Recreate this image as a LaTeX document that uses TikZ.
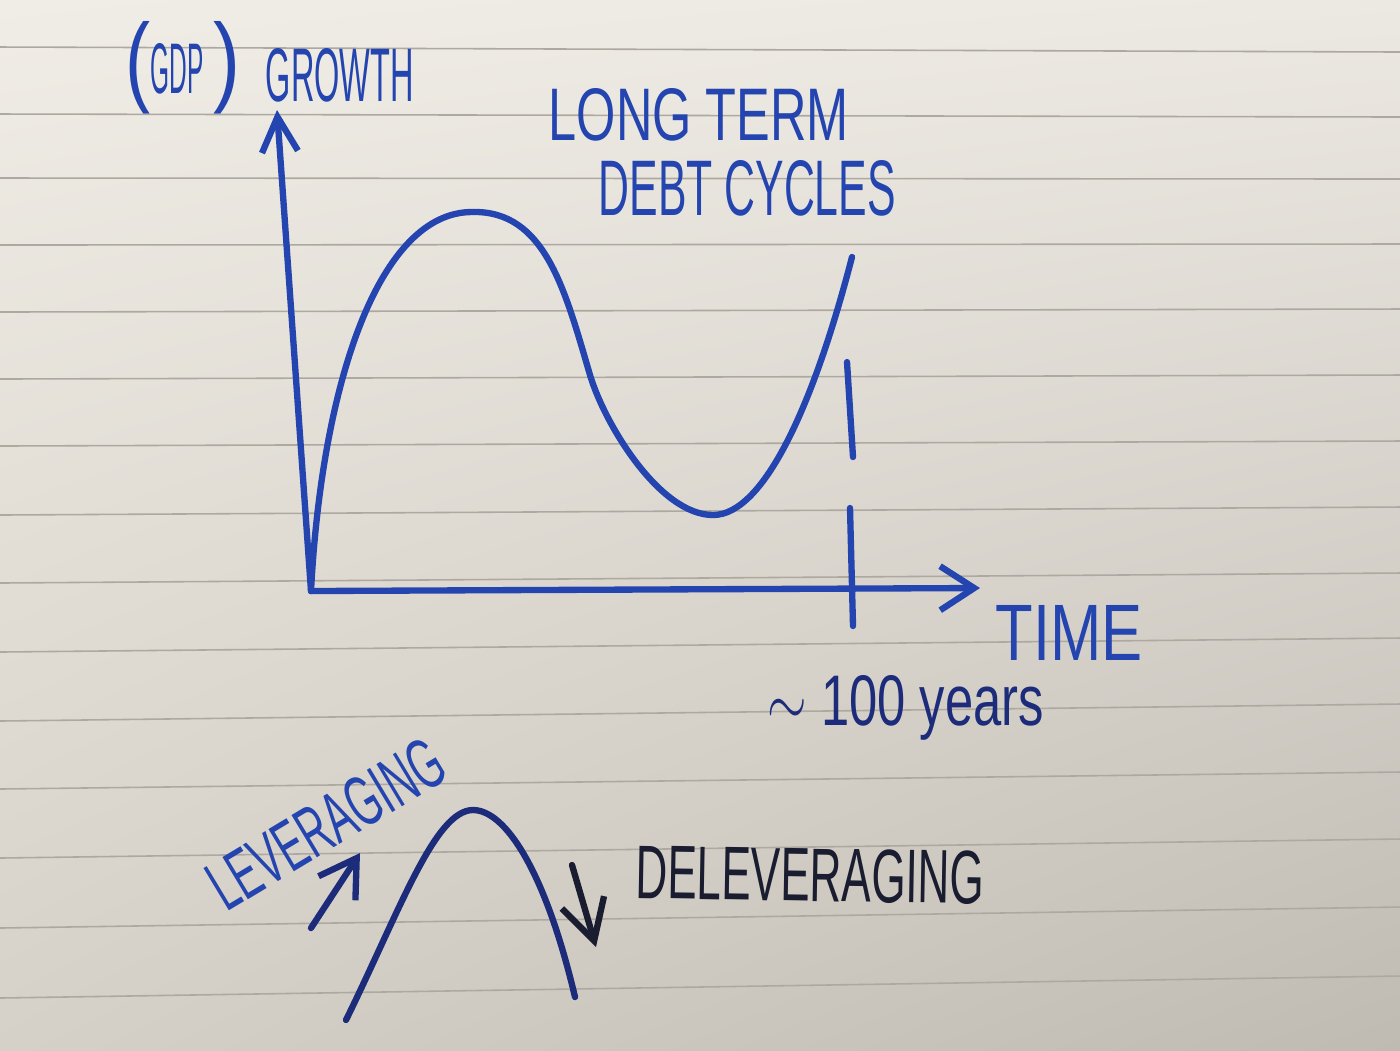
\documentclass[tikz,border=0pt]{standalone}
\usepackage{fontspec}
\setmainfont{Liberation Sans}
\usepackage{graphicx}
\usetikzlibrary{arrows.meta, shadings}
\definecolor{cpaperul}{HTML}{F0EDE6}
\definecolor{cpaperur}{HTML}{ECE9E2}
\definecolor{cpaperll}{HTML}{D6D1C8}
\definecolor{cpaperlr}{HTML}{BFBAB2}
\definecolor{crule}{HTML}{ADA8A0}
\definecolor{cink}{HTML}{2445B0}
\definecolor{cnavy}{HTML}{1C2C7A}
\definecolor{cdark}{HTML}{1A1D30}
% squeeze a word into the box the pen gave it
\newcommand{\fitto}[3]{\resizebox{#1}{#2}{#3}}
\tikzset{
  pen/.style={draw=#1, line width=1.8pt, line cap=round, line join=round},
  pen/.default=cink,
  barb/.style={-{Straight Barb[length=#1, width=4.4mm]}},
  thinbarb/.style={-{Straight Barb[length=3.5mm, width=3.6mm]}},
  words/.style={inner sep=0pt, anchor=base west, text=#1},
  words/.default=cink,
}

\begin{document}
\begin{tikzpicture}[x=0.01cm, y=-0.01cm]
  \useasboundingbox (0,0) rectangle (1400,1050);
  % paper and its ruling
  \shade[upper left=cpaperul, upper right=cpaperur, lower left=cpaperll, lower right=cpaperlr]
    (0,0) rectangle (1400,1050);
  \foreach \a/\b in {47/52, 114/117, 178/179, 245/244, 312/309, 379/375, 446/441, 515/507,
                     583/573, 652/638, 721/704, 789/772, 858/839, 928/907, 998/976}
    \draw[crule, line width=0.45pt] (0,\a) -- (1400,\b);
  % axes
  \coordinate (O) at (311,591);
  \coordinate (ytip) at (277,110);
  \coordinate (xtip) at (980,588);
  \draw[pen, thinbarb] (O) -- (ytip);
  \draw[pen, barb=3.4mm] (O) -- (xtip);
  % the long cycle: up to the peak, down through the trough, up again
  \coordinate (peak) at (472,212);
  \coordinate (turn) at (590,375);
  \coordinate (trough) at (713,515);
  \coordinate (cycend) at (852,257);
  \draw[pen] (O) .. controls (322,380) and (380,212) .. (peak)
    .. controls (545,210) and (565,290) .. (turn)
    .. controls (605,425) and (660,515) .. (trough)
    .. controls (765,515) and (815,400) .. (cycend);
  \draw[pen] (847,362) -- (853,457);
  \draw[pen] (850,508) -- (853,626);
  % labels
  \node[words] (gdp) at (125,93) {\fitto{0.25cm}{0.72cm}{(}\fitto{0.53cm}{0.5cm}{GDP}\hspace{0.1cm}%
    \fitto{0.27cm}{0.72cm}{)}\hspace{0.25cm}\raisebox{-0.08cm}{\fitto{1.48cm}{0.53cm}{GROWTH}}};
  \node[words] (lt) at (548,140) {\fitto{3.0cm}{0.52cm}{LONG TERM}};
  \node[words] (dc) at (598,215) {\fitto{2.97cm}{0.55cm}{DEBT CYCLES}};
  \node[words] (time) at (995,660) {\fitto{1.47cm}{0.55cm}{TIME}};
  \node[words=cnavy] (yrs) at (767,725) {\fitto{2.76cm}{0.5cm}{$\sim$ 100 years}};
  % leveraging hump
  \coordinate (humpa) at (346,1020);
  \coordinate (humptop) at (473,810);
  \coordinate (humpb) at (575,997);
  \draw[pen=cnavy] (humpa) .. controls (400,910) and (435,810) .. (humptop)
    .. controls (505,810) and (545,870) .. (humpb);
  \node[words, rotate=31] (lev) at (226,913) {\fitto{2.62cm}{0.5cm}{LEVERAGING}};
  \node[words=cdark, rotate=-1] (delev) at (635,898) {\fitto{3.48cm}{0.53cm}{DELEVERAGING}};
  \coordinate (levtail) at (311,928);
  \coordinate (levtip) at (360,853);
  \coordinate (deltail) at (572,865);
  \coordinate (deltip) at (596,947);
  \draw[pen=cnavy, barb=3.6mm] (levtail) -- (levtip);
  \draw[pen=cdark, barb=4mm] (deltail) -- (deltip);
\end{tikzpicture}
\end{document}
